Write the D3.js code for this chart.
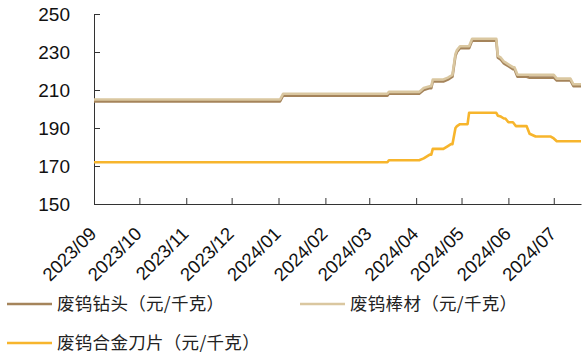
<!DOCTYPE html>
<html><head><meta charset="utf-8">
<script src="https://cdn.jsdelivr.net/npm/d3@7"></script>
<style>body{margin:0;background:#fff}svg{display:block}</style>
</head><body>
<script>
const dates = ["2023-09-01","2024-01-02","2024-01-04","2024-03-13","2024-03-14","2024-04-03","2024-04-06","2024-04-10","2024-04-11","2024-04-12","2024-04-19","2024-04-22","2024-04-24","2024-04-25","2024-04-27","2024-04-28","2024-04-30","2024-05-05","2024-05-06","2024-05-08","2024-05-24","2024-05-25","2024-05-27","2024-05-29","2024-05-30","2024-06-01","2024-06-02","2024-06-04","2024-06-05","2024-06-06","2024-06-07","2024-06-13","2024-06-15","2024-06-19","2024-06-29","2024-07-01","2024-07-03","2024-07-12","2024-07-14","2024-07-19"];
const rodValues   = [205,205,208,208,209,209,211,212,212,215.5,215.5,216.5,217.5,218,229,231,233,233,233,237,237,228,227,225,224.5,223.5,223,222,222,220,218,218,218,218,218,218,216,216,213,213];
const bitValues   = [204,204,207,207,208,208,210,211,211,214.5,214.5,215.5,216.5,217,228,230,232,232,232,236,236,227,226,224,223.5,222.5,222,221,221,219,217,217,216.5,216.5,216.5,216.5,215,215,212,212];
const bladeValues = [172,172,172,172,173,173,174,176,176,179,179,180.5,181.5,181.5,190,191,192,192,198,198,198,196.5,196,195,195,193,193,193,192,191,191,191,187,185.5,185.5,184.5,183,183,183,183];
const yTicks = [150,170,190,210,230,250];
const seriesNames = ["废钨钻头（元/千克）","废钨棒材（元/千克）","废钨合金刀片（元/千克）"];
const seriesColors = ["#a5845b","#dac7a0","#f7b52c"];

const W = 582, H = 359;
const parse = d3.utcParse("%Y-%m-%d");
const dd = dates.map(parse);
const svg = d3.select("body").append("svg").attr("width", W).attr("height", H);

const x = d3.scaleUtc().domain([parse("2023-09-01"), parse("2024-07-19")]).range([94, 581]);
const y = d3.scaleLinear().domain([150, 250]).range([204, 14]);

// axes
const yAxis = svg.append("g").attr("transform", "translate(94,0)")
  .call(d3.axisLeft(y).tickValues(yTicks).tickSize(-6).tickPadding(24).tickSizeOuter(0));
yAxis.selectAll("text").attr("font-family", "Liberation Sans, Arial, sans-serif").attr("font-size", 19).attr("fill", "#111");
yAxis.select(".domain").attr("stroke", "#333");
yAxis.selectAll(".tick line").attr("stroke", "#333");

const xAxis = svg.append("g").attr("transform", "translate(0,204)")
  .call(d3.axisBottom(x).ticks(d3.utcMonth.every(1)).tickFormat(d3.utcFormat("%Y/%m")).tickSize(-6).tickSizeOuter(0));
xAxis.select(".domain").attr("stroke", "#333");
xAxis.selectAll(".tick line").attr("stroke", "#333");
xAxis.selectAll("text")
  .attr("font-family", "Liberation Sans, Arial, sans-serif").attr("font-size", 18.5).attr("fill", "#111")
  .attr("x", 0).attr("y", 0).attr("dy", 0)
  .attr("text-anchor", "end")
  .attr("transform", "translate(3,31) rotate(-45)");

// lines
const mk = vals => d3.line().x((d, i) => x(dd[i])).y(d => y(d))(vals);
const order = [[bladeValues, 2], [bitValues, 0], [rodValues, 1]];
order.forEach(([vals, ci]) => {
  svg.append("path").attr("d", mk(vals)).attr("fill", "none")
    .attr("stroke", seriesColors[ci]).attr("stroke-width", 2.6).attr("stroke-linejoin", "round");
});

// legend
const legendPos = [[7, 304], [300, 304], [7, 343]];
seriesNames.forEach((name, i) => {
  const [lx, ly] = legendPos[i];
  svg.append("line").attr("x1", lx).attr("x2", lx + 45).attr("y1", ly).attr("y2", ly)
    .attr("stroke", seriesColors[i]).attr("stroke-width", 2.6);
  svg.append("text").attr("x", lx + 50).attr("y", ly).attr("dy", "0.35em")
    .attr("font-family", "Noto Sans CJK SC, sans-serif").attr("font-size", 17.5).attr("fill", "#222")
    .attr("letter-spacing", 0.3)
    .text(name);
});
</script>
</body></html>
